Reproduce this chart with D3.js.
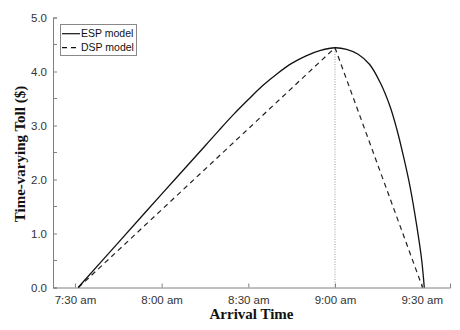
<!DOCTYPE html>
<html>
<head>
<meta charset="utf-8">
<script src="https://cdn.jsdelivr.net/npm/d3@7"></script>
<style>
body { margin: 0; background: #fff; }
svg { display: block; }
</style>
</head>
<body>
<svg id="GraphToll" width="460" height="330"></svg>
<script>
// minutes after 7:00 am
var espMinutes = [31.1, 45, 60, 75, 80, 85, 90, 95, 100, 105, 110, 115, 120, 124, 128, 132, 135.6, 139.0, 141.4, 143.6, 146.0, 148.3, 150.0, 150.9];
var espToll    = [0, 0.83, 1.73, 2.62, 2.92, 3.21, 3.48, 3.74, 3.96, 4.15, 4.29, 4.39, 4.44, 4.41, 4.32, 4.13, 3.80, 3.36, 2.93, 2.45, 1.86, 1.14, 0.51, 0];
var dspMinutes = [31.2, 120, 150.3];
var dspToll    = [0, 4.44, 0];
var yTicks = [0, 1, 2, 3, 4, 5];
var yMinor = [0.5, 1.5, 2.5, 3.5, 4.5];
var seriesNames = ["ESP model", "DSP model"];

var axisColor = "#808080";
var textColor = "#333";

function toDate(m) { return new Date(2020, 0, 1, 7, 0, 0, Math.round(m * 60000)); }

DrawToll();

function DrawToll(){

	var svg = d3.select("#GraphToll");
	var left = 53, right = 450, top = 17.5, bottom = 287.5;

	var xScale = d3.scaleTime().domain([toDate(22.4), toDate(159.8)]).range([left, right]);
	var yScale = d3.scaleLinear().domain([0, 5]).range([bottom, top]);

	var fmt = d3.timeFormat("%-I:%M %p");

	// vertical dotted line at the peak
	svg.append("line")
	 .attr("x1", xScale(toDate(120)))
	 .attr("x2", xScale(toDate(120)))
	 .attr("y1", yScale(0))
	 .attr("y2", yScale(4.44))
	 .attr("stroke", "#999")
	 .attr("stroke-width", 1)
	 .attr("stroke-dasharray", "1,1.5");

	// x axis
	var gx = svg.append("g")
	 .attr("transform", "translate(0," + bottom + ")")
	 .call(d3.axisBottom(xScale)
	   .ticks(d3.timeMinute.every(30))
	   .tickFormat(function(d) { return fmt(d).toLowerCase(); })
	   .tickSize(-4)
	   .tickPadding(8));

	// y axis
	var gy = svg.append("g")
	 .attr("transform", "translate(" + left + ",0)")
	 .call(d3.axisLeft(yScale)
	   .tickValues(yTicks)
	   .tickFormat(d3.format(".1f"))
	   .tickSize(-4)
	   .tickPadding(6));

	gy.selectAll(".minor")
	 .data(yMinor)
	 .enter().append("line")
	 .attr("class", "minor")
	 .attr("x1", 0)
	 .attr("x2", 4)
	 .attr("y1", function(d) { return yScale(d); })
	 .attr("y2", function(d) { return yScale(d); })
	 .attr("stroke", axisColor);

	[gx, gy].forEach(function(g) {
		g.select(".domain").attr("stroke", axisColor);
		g.selectAll(".tick line").attr("stroke", axisColor);
		g.selectAll(".tick text")
		 .attr("fill", textColor)
		 .attr("font-family", "Liberation Sans, Arial, sans-serif")
		 .attr("font-size", "11.5px");
	});

	// axis titles
	svg.append("text")
	 .attr("x", (left + right) / 2)
	 .attr("y", 319)
	 .attr("text-anchor", "middle")
	 .attr("font-family", "Liberation Serif, Times New Roman, serif")
	 .attr("font-weight", "bold")
	 .attr("font-size", "15px")
	 .attr("fill", "#111")
	 .text("Arrival Time");

	svg.append("text")
	 .attr("transform", "translate(25," + 154 + ") rotate(-90)")
	 .attr("text-anchor", "middle")
	 .attr("font-family", "Liberation Serif, Times New Roman, serif")
	 .attr("font-weight", "bold")
	 .attr("font-size", "15px")
	 .attr("fill", "#111")
	 .text("Time-varying Toll ($)");

	var line = d3.line()
	 .x(function(d) { return xScale(toDate(d[0])); })
	 .y(function(d) { return yScale(d[1]); });

	var esp = espMinutes.map(function(m, i) { return [m, espToll[i]]; });
	var dsp = dspMinutes.map(function(m, i) { return [m, dspToll[i]]; });

	svg.append("path")
	 .datum(dsp)
	 .attr("d", line.curve(d3.curveLinear))
	 .attr("fill", "none")
	 .attr("stroke", "#222")
	 .attr("stroke-width", 1.2)
	 .attr("stroke-dasharray", "5,4");

	svg.append("path")
	 .datum(esp)
	 .attr("d", line.curve(d3.curveCatmullRom.alpha(0.5)))
	 .attr("fill", "none")
	 .attr("stroke", "#111")
	 .attr("stroke-width", 1.3);

	// legend
	var lg = svg.append("g").attr("transform", "translate(60,24)");
	lg.append("rect")
	 .attr("x", 0.5)
	 .attr("y", 0.5)
	 .attr("width", 76)
	 .attr("height", 31)
	 .attr("fill", "#fff")
	 .attr("stroke", "#888");

	lg.selectAll(".key")
	 .data(seriesNames)
	 .enter().append("line")
	 .attr("class", "key")
	 .attr("x1", 2)
	 .attr("x2", 20)
	 .attr("y1", function(d, i) { return 9.7 + i * 14; })
	 .attr("y2", function(d, i) { return 9.7 + i * 14; })
	 .attr("stroke", "#111")
	 .attr("stroke-width", 1.2)
	 .attr("stroke-dasharray", function(d, i) { return i == 0 ? null : "5,4"; });

	lg.selectAll(".lbl")
	 .data(seriesNames)
	 .enter().append("text")
	 .attr("class", "lbl")
	 .attr("x", 21)
	 .attr("y", function(d, i) { return 9.7 + i * 14; })
	 .attr("dy", "0.36em")
	 .attr("font-family", "Liberation Sans, Arial, sans-serif")
	 .attr("font-size", "10.5px")
	 .attr("fill", "#111")
	 .text(function(d) { return d; });
};
</script>
</body>
</html>
